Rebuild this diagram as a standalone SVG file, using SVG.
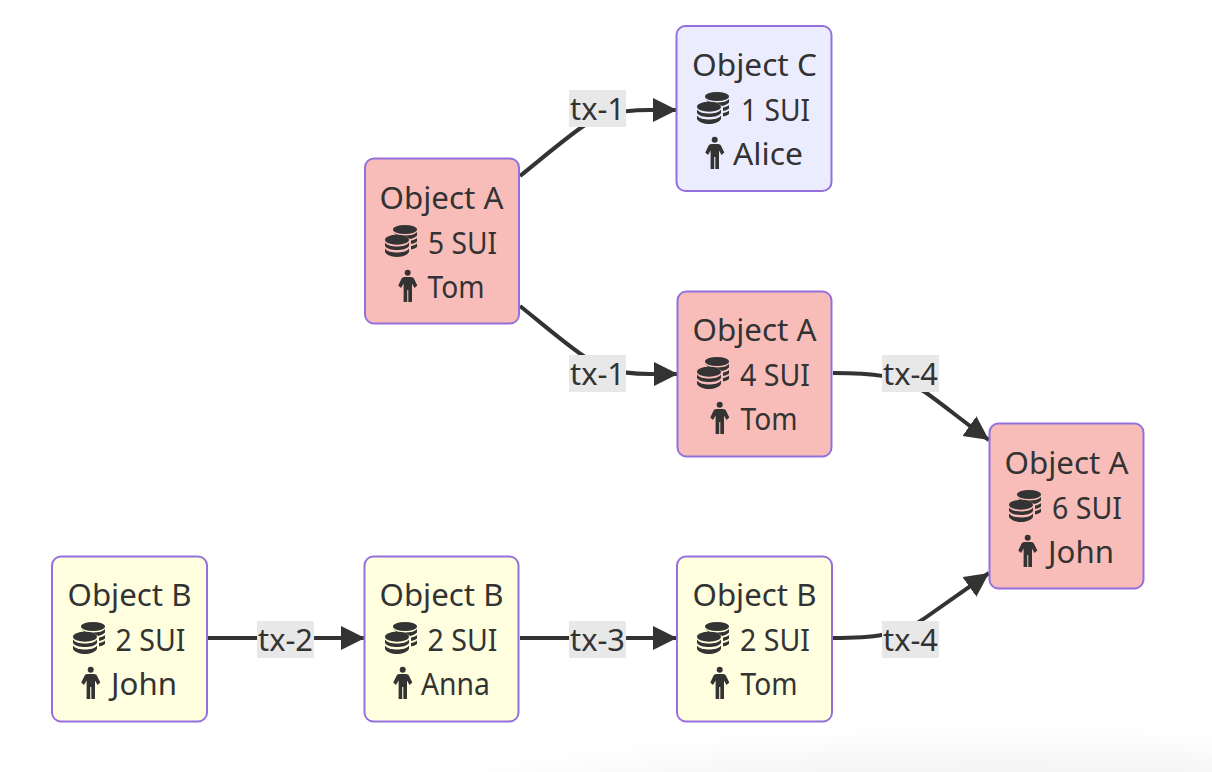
<svg xmlns="http://www.w3.org/2000/svg" width="1212" height="772" viewBox="0 0 1212 772">
<style>
.n{stroke:#9370db;stroke-width:2}
.red{fill:#f9bdb9}.lav{fill:#ececff}.yel{fill:#ffffe0}
text{font-family:"Noto Sans","DejaVu Sans",sans-serif;font-size:31px;fill:#333;text-anchor:middle}
.e{fill:none;stroke:#333;stroke-width:4}
.lb{fill:#e8e8e8}
.ic{fill:#333}
</style>
<defs>
<radialGradient id="sh" gradientUnits="userSpaceOnUse" cx="0" cy="0" r="1" gradientTransform="translate(1000 830) scale(660 105)"><stop offset="0" stop-color="#f3f3f3"/><stop offset=".6" stop-color="#f5f5f5"/><stop offset="1" stop-color="#fff"/></radialGradient>
<marker id="a" markerUnits="userSpaceOnUse" markerWidth="26" markerHeight="26" refX="24" refY="12" orient="auto"><path d="M0 0L24 12L0 24z" fill="#333"/></marker>
<g id="coins" class="ic"><ellipse cx="20" cy="4.500" rx="12" ry="4.500"/><path d="M8 7C10 9.500 14 10.500 20 10.500S30 9.500 32 7v3.500C30 12.500 28 13.500 25 14 23 11.500 18 10.500 11 10zM26 15.500c2.500-.3 4.500-1.200 6-2.500v3.500c-1.300 1.300-3 2-6 2.500zM26 21c2.500-.3 4.500-1.200 6-2.500V22c-1.300 1.300-3 2-6 2.500z"/><ellipse cx="12" cy="14.800" rx="12" ry="5"/><path d="M0 17.500C2 20.500 7 21.500 12 21.500S22 20.500 24 17.500V21C22 24 17 25 12 25S2 24 0 21z"/><path d="M0 23.500C2 26.500 7 27.500 12 27.500S22 26.500 24 23.500V27C22 30.500 17 32 12 32S2 30.500 0 27z"/></g>
<g id="man" class="ic"><circle cx="9.700" cy="2.800" r="3"/><path d="M6.500 7h6.500c1.500 0 2.500.8 3 1.800L19.300 15.500 16.500 18 14 13.500V32H10.300V20H9.200V32H5.600V13.500L3 18 .3 15.500 3.500 8.800C4 7.800 5 7 6.500 7z"/></g>
</defs>
<rect x="330" y="720" width="882" height="52" fill="url(#sh)"/>
<g id="connectors">
<path class="e" marker-end="url(#a)" d="M520 176C540 160 562 141 582 127C596 117 612 110 650 110H677"/>
<path class="e" marker-end="url(#a)" d="M520 306C540 322 562 341 582 355C596 365 612 374 650 374H678"/>
<path class="e" marker-end="url(#a)" d="M833 373C870 373 900 375 925 392C945 406 965 423 989 440"/>
<path class="e" marker-end="url(#a)" d="M833 638C870 638 900 636 925 618C945 604 965 590 989 573"/>
<path class="e" marker-end="url(#a)" d="M208 638H365"/>
<path class="e" marker-end="url(#a)" d="M520 638H677"/>
<g id="edge-labels">
<rect class="lb" x="569" y="90" width="57" height="37"/><text x="597.500" y="120" textLength="55" lengthAdjust="spacingAndGlyphs">tx-1</text>
<rect class="lb" x="569" y="355" width="57" height="37"/><text x="597.500" y="385" textLength="55" lengthAdjust="spacingAndGlyphs">tx-1</text>
<rect class="lb" x="882" y="355" width="57" height="37"/><text x="910.500" y="385" textLength="55" lengthAdjust="spacingAndGlyphs">tx-4</text>
<rect class="lb" x="882" y="621" width="57" height="37"/><text x="910.500" y="651" textLength="55" lengthAdjust="spacingAndGlyphs">tx-4</text>
<rect class="lb" x="257" y="621" width="57" height="37"/><text x="285.500" y="651" textLength="55" lengthAdjust="spacingAndGlyphs">tx-2</text>
<rect class="lb" x="569" y="621" width="57" height="37"/><text x="597.500" y="651" textLength="55" lengthAdjust="spacingAndGlyphs">tx-3</text>
</g>
</g>
<g id="a5"><rect class="n red" x="365" y="158.500" width="154" height="165" rx="9"/><text x="441.500" y="209" textLength="124" lengthAdjust="spacingAndGlyphs">Object A</text><use href="#coins" x="385" y="225"/><text x="462.500" y="254" textLength="69" lengthAdjust="spacingAndGlyphs">5 SUI</text><use href="#man" x="398" y="270"/><text x="456" y="298" textLength="57" lengthAdjust="spacingAndGlyphs">Tom</text></g>
<g id="c1"><rect class="n lav" x="676.500" y="26" width="155" height="165" rx="9"/><text x="754.500" y="76" textLength="125" lengthAdjust="spacingAndGlyphs">Object C</text><use href="#coins" x="697" y="92"/><text x="775.500" y="121" textLength="69" lengthAdjust="spacingAndGlyphs">1 SUI</text><use href="#man" x="705" y="137"/><text x="768" y="165" textLength="70" lengthAdjust="spacingAndGlyphs">Alice</text></g>
<g id="a4"><rect class="n red" x="677.500" y="291.500" width="154" height="165" rx="9"/><text x="754.500" y="341" textLength="124" lengthAdjust="spacingAndGlyphs">Object A</text><use href="#coins" x="697" y="357"/><text x="775" y="386" textLength="70" lengthAdjust="spacingAndGlyphs">4 SUI</text><use href="#man" x="710" y="402"/><text x="769" y="430" textLength="57" lengthAdjust="spacingAndGlyphs">Tom</text></g>
<g id="a6"><rect class="n red" x="989.500" y="423.500" width="154" height="165" rx="9"/><text x="1066.500" y="474" textLength="124" lengthAdjust="spacingAndGlyphs">Object A</text><use href="#coins" x="1009" y="490"/><text x="1087" y="519" textLength="70" lengthAdjust="spacingAndGlyphs">6 SUI</text><use href="#man" x="1018" y="535"/><text x="1081" y="563" textLength="66" lengthAdjust="spacingAndGlyphs">John</text></g>
<g id="b1"><rect class="n yel" x="52" y="556.500" width="155" height="165" rx="9"/><text x="129.500" y="606" textLength="124" lengthAdjust="spacingAndGlyphs">Object B</text><use href="#coins" x="73" y="622"/><text x="150.500" y="651" textLength="70" lengthAdjust="spacingAndGlyphs">2 SUI</text><use href="#man" x="81" y="667"/><text x="144" y="695" textLength="66" lengthAdjust="spacingAndGlyphs">John</text></g>
<g id="b2"><rect class="n yel" x="364.500" y="556.500" width="154" height="165" rx="9"/><text x="441.500" y="606" textLength="124" lengthAdjust="spacingAndGlyphs">Object B</text><use href="#coins" x="385" y="622"/><text x="462.500" y="651" textLength="70" lengthAdjust="spacingAndGlyphs">2 SUI</text><use href="#man" x="393" y="667"/><text x="455.500" y="695" textLength="69" lengthAdjust="spacingAndGlyphs">Anna</text></g>
<g id="b3"><rect class="n yel" x="677" y="556.500" width="155" height="165" rx="9"/><text x="754.500" y="606" textLength="124" lengthAdjust="spacingAndGlyphs">Object B</text><use href="#coins" x="697" y="622"/><text x="775" y="651" textLength="70" lengthAdjust="spacingAndGlyphs">2 SUI</text><use href="#man" x="710" y="667"/><text x="769" y="695" textLength="57" lengthAdjust="spacingAndGlyphs">Tom</text></g>
</svg>
